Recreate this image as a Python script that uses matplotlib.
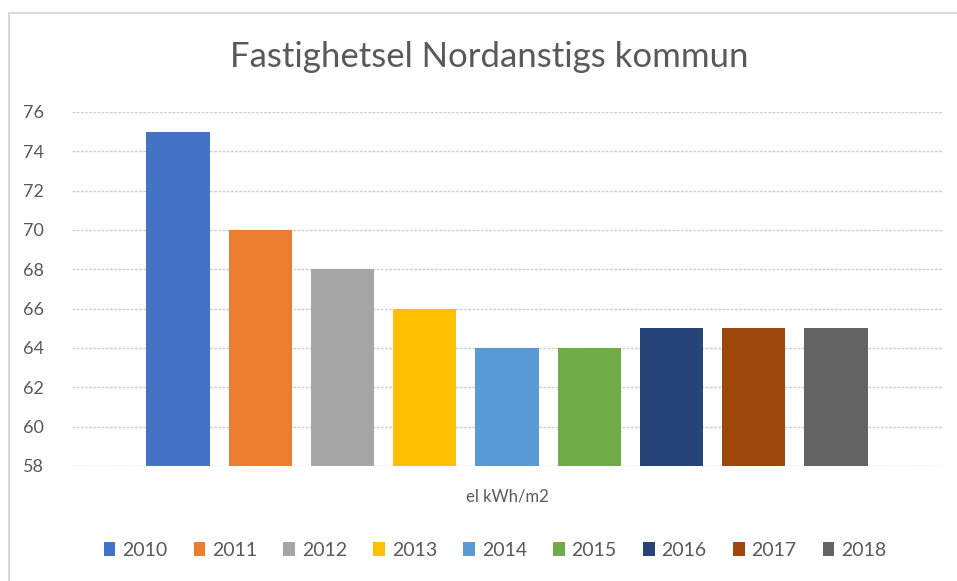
import matplotlib.pyplot as plt
from matplotlib.lines import Line2D
from matplotlib.patches import Patch

years = ["2010", "2011", "2012", "2013", "2014", "2015", "2016", "2017", "2018"]
values = [75, 70, 68, 66, 64, 64, 65, 65, 65]
colors = ["#4472C4", "#ED7D31", "#A5A5A5", "#FFC000", "#5B9BD5",
          "#70AD47", "#264478", "#9E480E", "#636363"]
yticks = [58, 60, 62, 64, 66, 68, 70, 72, 74, 76]

plt.rcParams['font.family'] = ['Lato', 'DejaVu Sans']

fig = plt.figure(figsize=(9.57, 5.81), dpi=100)
ax = fig.add_axes([72/957, 1-466/581, (942-72)/957, (466-112)/581])

for i, (y, v, c) in enumerate(zip(years, values, colors)):
    ax.bar(i, v - 58, bottom=58, width=0.77, color=c, label=y, zorder=3)

ax.set_ylim(58, 76)
ax.set_xlim(-1.29, 9.29)
ax.set_yticks(yticks)
ax.set_yticklabels([str(t) for t in yticks], fontsize=13, color="#595959")
ax.set_xticks([])
ax.tick_params(axis='y', length=0, pad=20)
ax.grid(axis='y', color="#d0d0d0", linestyle=(0, (2, 1)), linewidth=1, zorder=0)
for s in ax.spines.values():
    s.set_visible(False)

fig.text(489/957, 1-57/581, "Fastighetsel Nordanstigs kommun", ha='center', va='center',
         fontsize=25, color="#595959")
fig.text(507/957, 1-497/581, "el kWh/m2", ha='center', va='center', fontsize=12, color="#595959")

handles = [Patch(facecolor=c, edgecolor='none') for c in colors]
fig.legend(handles, years, loc='center', bbox_to_anchor=(495/957, 1-550/581), ncol=9,
           frameon=False, fontsize=14, labelcolor="#595959", handlelength=0.6, handleheight=0.7,
           handletextpad=0.35, columnspacing=1.35)

# chart border
fig.add_artist(Line2D([9/957, 9/957], [0, 1-13/581], color="#d9d9d9", lw=1.5))
fig.add_artist(Line2D([9/957, 1], [1-13/581, 1-13/581], color="#d9d9d9", lw=1.5))

fig.savefig("out.png", dpi=100)
